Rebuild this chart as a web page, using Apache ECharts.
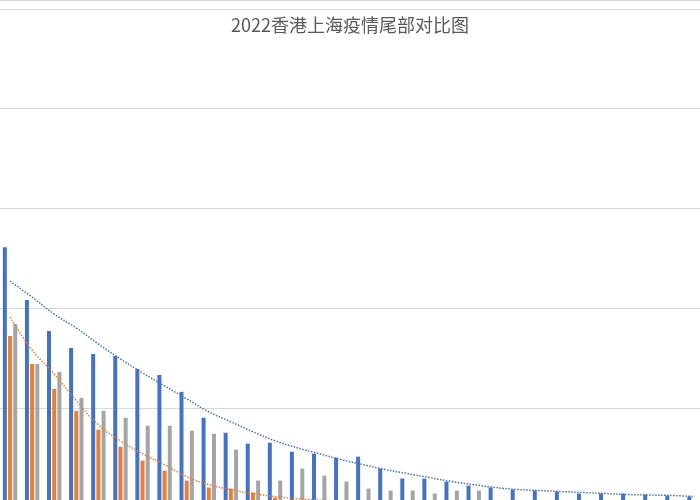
<!DOCTYPE html>
<html>
<head>
<meta charset="utf-8">
<script src="https://cdn.jsdelivr.net/npm/echarts@6/dist/echarts.min.js"></script>
<style>
  html, body { margin: 0; padding: 0; background: #fff; }
  #root { width: 700px; height: 500px; }
</style>
</head>
<body>
<div id="root"></div>
<script>
// day index since the tail started
const days = []
for (let i = 1; i <= 32; i++) days.push('第' + i + '天')

// values
const blueVals = [2610, 2080, 1770, 1600, 1540, 1520, 1390, 1330, 1160, 900,
  750, 640, 650, 560, 540, 500, 510, 390, 290, 290,
  260, 220, 200, 180, 170, 160, 140, 140, 140, 130, 120, 110]
const orangeVals = [1720, 1440, 1190, 970, 780, 610, 470, 370, 270, 200,
  190, 150, 100, 50, 30, 20]
const grayVals = [1840, 1440, 1360, 1100, 970, 900, 820, 820, 770, 740,
  580, 270, 270, 390, 320, 260, 190, 170, 170, 140,
  170, 170, 40, 40, 30, 30, 30, 20, 20, 20, 20, 20]

// dotted trend lines, read at each category centre
const blueTrend = [2270, 2110, 1940, 1800, 1640, 1490, 1350, 1220, 1090, 960,
  860, 760, 670, 600, 540, 480, 430, 380, 340, 300,
  260, 230, 200, 180, 170, 160, 150, 140, 130, 125, 120, 110]
const orangeTrend = [1910, 1580, 1340, 1070, 830, 670, 540, 430, 310, 230,
  180, 140, 110, 90, 75, 65]

const yTicks = [0, 1000, 2000, 3000, 4000, 5000]

const chart = echarts.init(document.getElementById('root'))

const barCommon = { type: 'bar', barWidth: 4, barGap: '30%', animation: false }
const trendCommon = {
  type: 'line', symbol: 'none', smooth: true, animation: false, z: 5
}

chart.setOption({
  backgroundColor: '#fff',
  title: {
    text: '2022香港上海疫情尾部对比图',
    left: 'center',
    top: 11,
    textStyle: {
      fontFamily: 'Noto Sans CJK SC',
      fontSize: 18,
      fontWeight: 'normal',
      color: '#595959'
    }
  },
  graphic: [{
    type: 'line',
    shape: { x1: 0, y1: 0.5, x2: 700, y2: 0.5 },
    style: { stroke: '#d9d9d9', lineWidth: 1 }
  }],
  // the plot runs past the bottom and right edges (cropped chart)
  grid: {
    left: -1, top: 9, width: 706.6, height: 498.5,
    outerBoundsMode: 'none', containLabel: false
  },
  xAxis: {
    type: 'category',
    data: days,
    axisLine: { show: false },
    axisTick: { show: false },
    axisLabel: { show: false }
  },
  yAxis: {
    type: 'value',
    min: yTicks[0],
    max: yTicks[yTicks.length - 1],
    interval: 1000,
    axisLabel: { show: false },
    axisLine: { show: false },
    axisTick: { show: false },
    splitLine: { lineStyle: { color: '#d9d9d9', width: 1 } }
  },
  series: [
    { ...barCommon, name: '上海', data: blueVals, itemStyle: { color: '#4472C4' } },
    { ...barCommon, name: '香港', data: orangeVals, itemStyle: { color: '#ED7D31' } },
    { ...barCommon, name: '对照', data: grayVals, itemStyle: { color: '#A5A5A5' } },
    { ...trendCommon, name: '上海趋势', data: blueTrend,
      lineStyle: { color: '#4472C4', width: 1.5, type: 'dotted' } },
    { ...trendCommon, name: '香港趋势', data: orangeTrend,
      lineStyle: { color: '#ED7D31', width: 1.5, type: 'dotted' } }
  ]
})
</script>
</body>
</html>
